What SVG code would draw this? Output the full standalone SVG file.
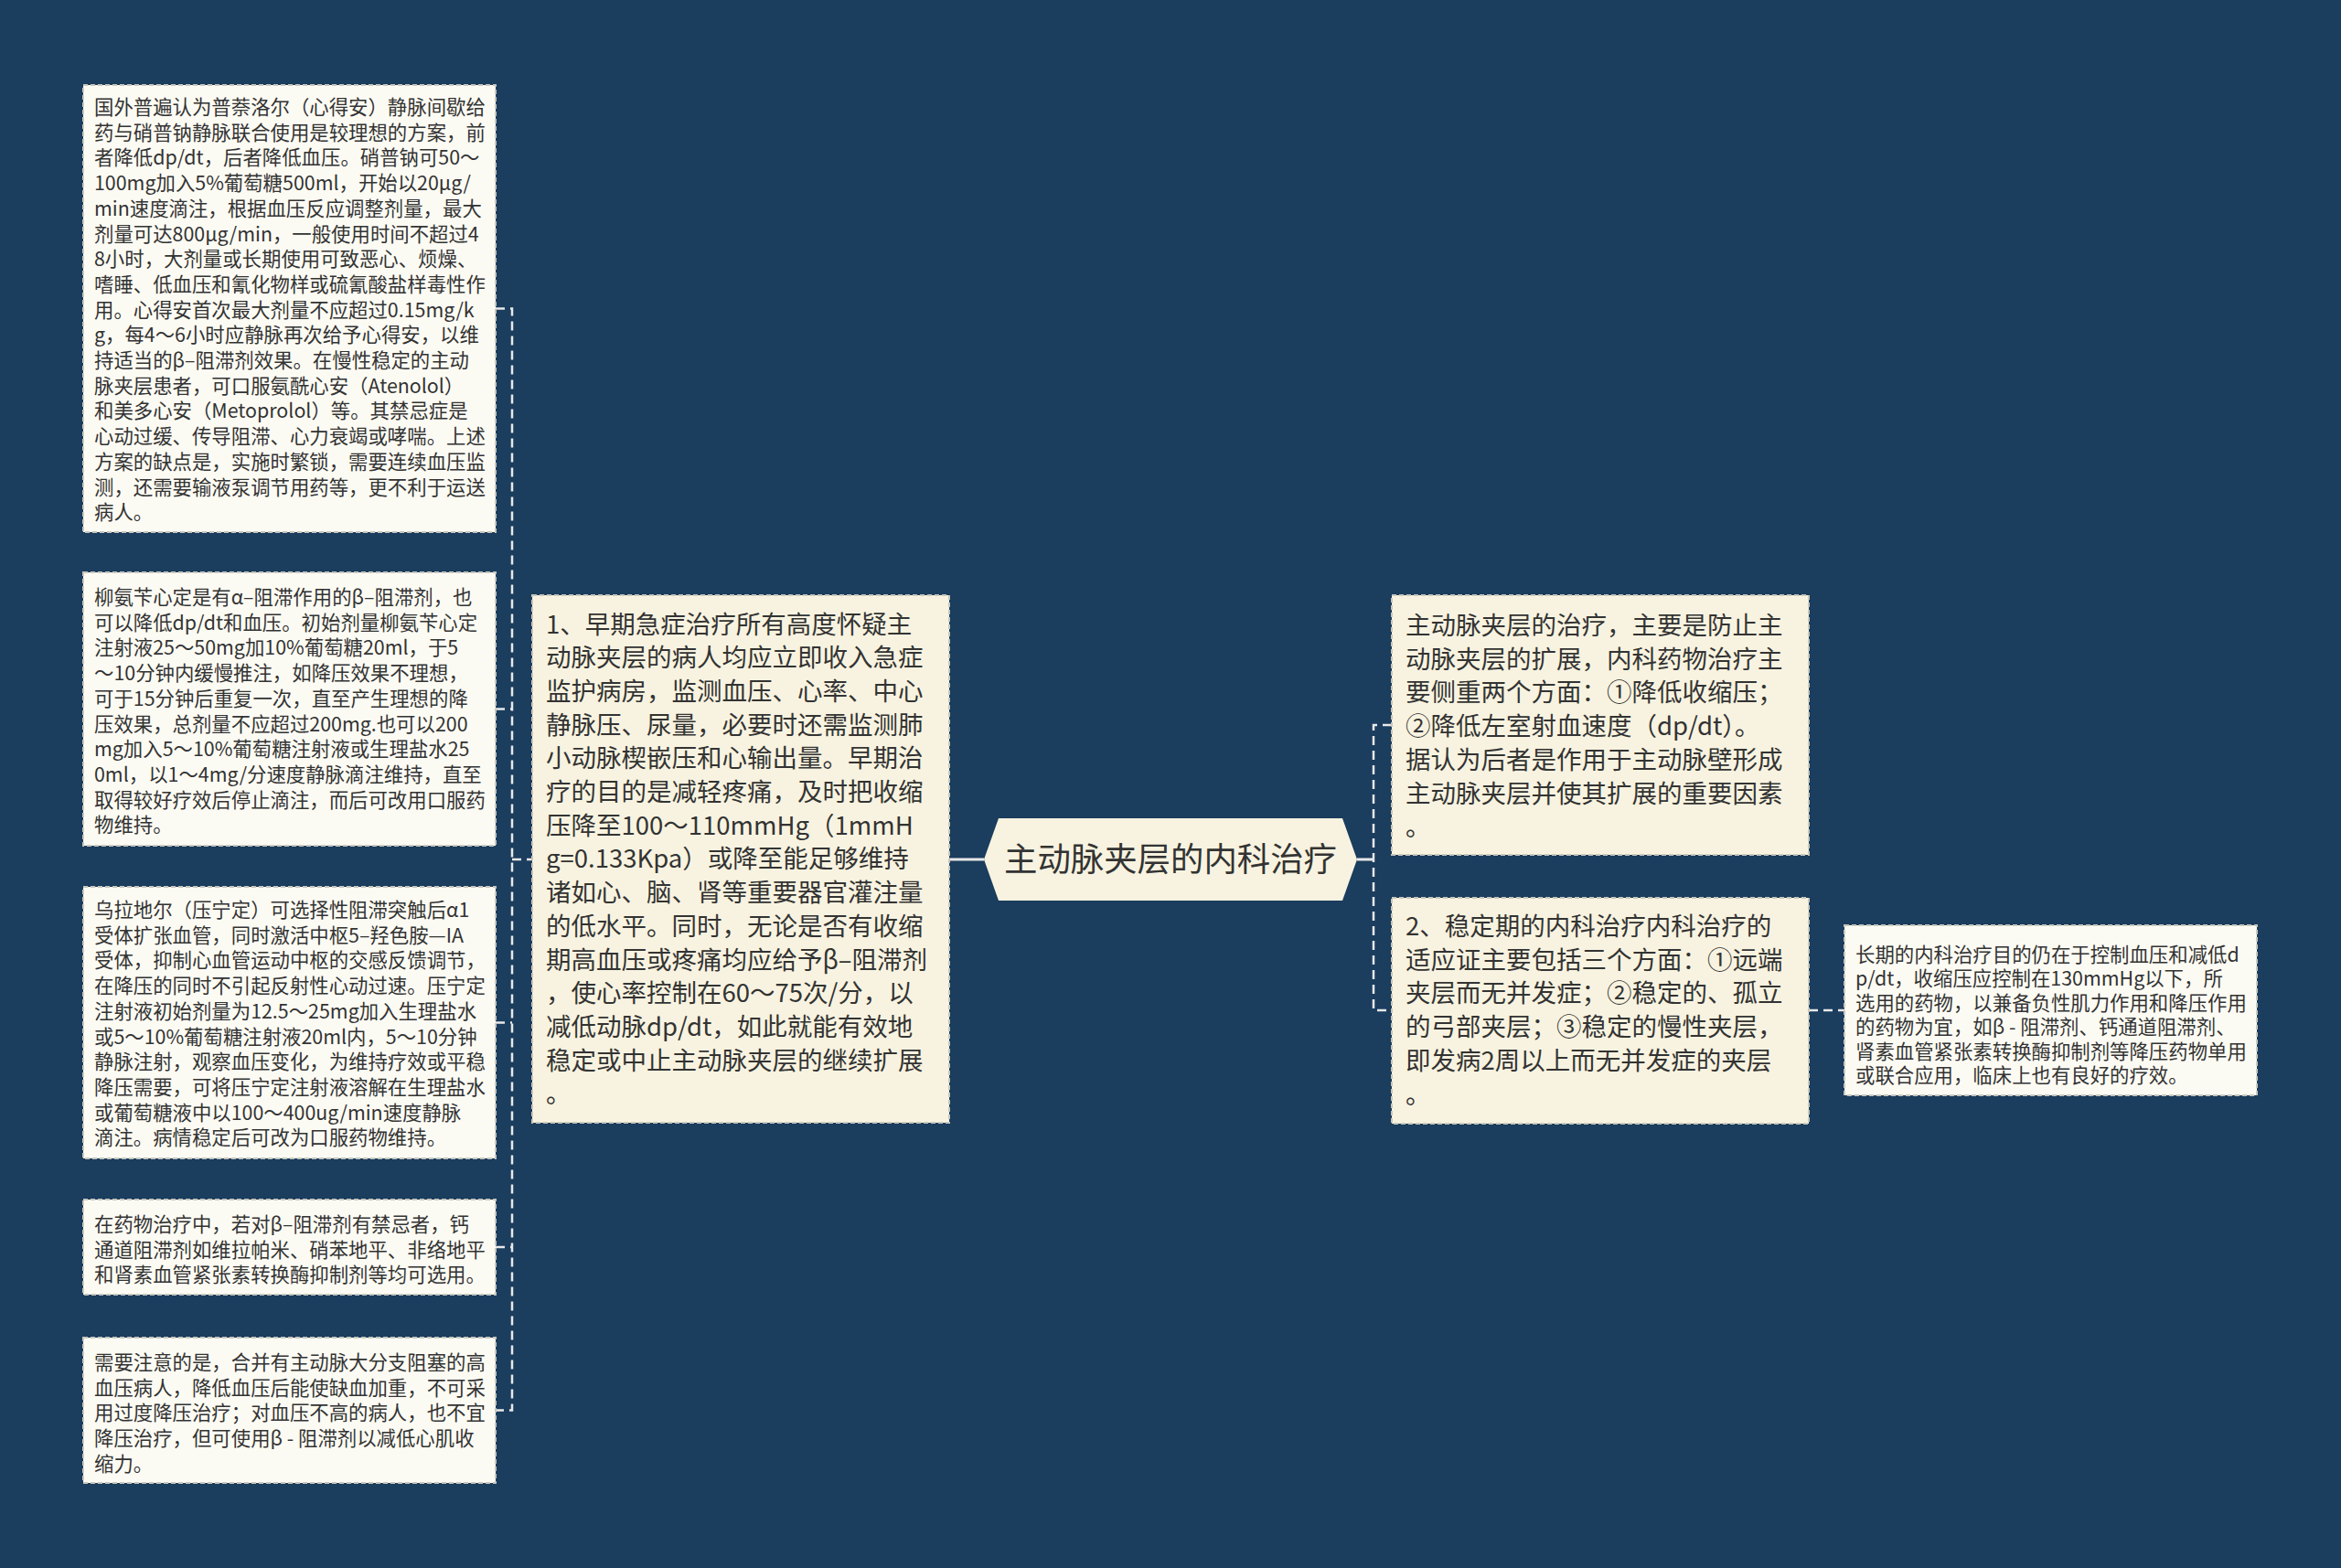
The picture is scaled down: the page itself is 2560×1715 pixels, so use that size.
<svg xmlns="http://www.w3.org/2000/svg" width="2560" height="1715" viewBox="0 0 2560 1715">
<style>
.bg{fill:#1b3d5e}
.box1{fill:#fcfbf3;stroke:#c8c6bc;stroke-width:2;stroke-dasharray:5 3}
.box2{fill:#f8f3e0;stroke:#c8c6bc;stroke-width:2;stroke-dasharray:5 3}
.hex{fill:#f8f3e0;stroke:none}
.conn{fill:none;stroke:#e8e8e8;stroke-width:2.5;stroke-dasharray:10 6}
.solid{fill:none;stroke:#e8e8e8;stroke-width:3}
text{font-family:"Noto Sans CJK SC","Noto Sans",sans-serif;fill:#333333}
.s{font-size:21.4px}
.m{font-size:27.5px}
.c{font-size:36.4px;text-anchor:middle}
</style>
<rect class="bg" x="0" y="0" width="2560" height="1715"/>
<g id="connectors">
<path class="conn" d="M542,337.5 H560 V1542.5 H542"/>
<path class="conn" d="M542,775.5 H560"/>
<path class="conn" d="M542,1118.5 H560"/>
<path class="conn" d="M542,1364 H560"/>
<path class="conn" d="M560,940 H582"/>
<path class="solid" d="M1038,940 H1076"/>
<path class="solid" d="M1484,940 H1502"/>
<path class="conn" d="M1522,793 H1502 V1105 H1522"/>
<path class="conn" d="M1978,1105 H2017"/>
</g>
<g id="center">
<polygon class="hex" points="1076,940 1092,895 1468,895 1484,940 1468,985 1092,985"/>
<text class="c" x="1280" y="953">主动脉夹层的内科治疗</text>
</g>
<g id="m1">
<rect class="box2" x="582" y="651" width="456" height="577"/>
<text class="m">
<tspan x="597" y="692.5">1、早期急症治疗所有高度怀疑主</tspan>
<tspan x="597" y="729.2">动脉夹层的病人均应立即收入急症</tspan>
<tspan x="597" y="765.9">监护病房，监测血压、心率、中心</tspan>
<tspan x="597" y="802.6">静脉压、尿量，必要时还需监测肺</tspan>
<tspan x="597" y="839.3">小动脉楔嵌压和心输出量。早期治</tspan>
<tspan x="597" y="876">疗的目的是减轻疼痛，及时把收缩</tspan>
<tspan x="597" y="912.7">压降至100～110mmHg（1mmH</tspan>
<tspan x="597" y="949.4">g=0.133Kpa）或降至能足够维持</tspan>
<tspan x="597" y="986.1">诸如心、脑、肾等重要器官灌注量</tspan>
<tspan x="597" y="1022.8">的低水平。同时，无论是否有收缩</tspan>
<tspan x="597" y="1059.5">期高血压或疼痛均应给予β–阻滞剂</tspan>
<tspan x="597" y="1096.2">，使心率控制在60～75次/分，以</tspan>
<tspan x="597" y="1132.9">减低动脉dp/dt，如此就能有效地</tspan>
<tspan x="597" y="1169.6">稳定或中止主动脉夹层的继续扩展</tspan>
<tspan x="597" y="1206.3">。</tspan>
</text>
</g>
<g id="r1">
<rect class="box2" x="1522" y="651" width="456" height="284"/>
<text class="m">
<tspan x="1537" y="694">主动脉夹层的治疗，主要是防止主</tspan>
<tspan x="1537" y="730.7">动脉夹层的扩展，内科药物治疗主</tspan>
<tspan x="1537" y="767.4">要侧重两个方面：①降低收缩压；</tspan>
<tspan x="1537" y="804.1">②降低左室射血速度（dp/dt）。</tspan>
<tspan x="1537" y="840.8">据认为后者是作用于主动脉壁形成</tspan>
<tspan x="1537" y="877.5">主动脉夹层并使其扩展的重要因素</tspan>
<tspan x="1537" y="914.2">。</tspan>
</text>
</g>
<g id="r2">
<rect class="box2" x="1522" y="982" width="456" height="247"/>
<text class="m">
<tspan x="1537" y="1023">2、稳定期的内科治疗内科治疗的</tspan>
<tspan x="1537" y="1059.7">适应证主要包括三个方面：①远端</tspan>
<tspan x="1537" y="1096.4">夹层而无并发症；②稳定的、孤立</tspan>
<tspan x="1537" y="1133.1">的弓部夹层；③稳定的慢性夹层，</tspan>
<tspan x="1537" y="1169.8">即发病2周以上而无并发症的夹层</tspan>
<tspan x="1537" y="1206.5">。</tspan>
</text>
</g>
<g id="r3">
<rect class="box1" x="2017" y="1012" width="451" height="186"/>
<text class="s">
<tspan x="2029" y="1052">长期的内科治疗目的仍在于控制血压和减低d</tspan>
<tspan x="2029" y="1078.4">p/dt，收缩压应控制在130mmHg以下，所</tspan>
<tspan x="2029" y="1104.8">选用的药物，以兼备负性肌力作用和降压作用</tspan>
<tspan x="2029" y="1131.2">的药物为宜，如β - 阻滞剂、钙通道阻滞剂、</tspan>
<tspan x="2029" y="1157.6">肾素血管紧张素转换酶抑制剂等降压药物单用</tspan>
<tspan x="2029" y="1184">或联合应用，临床上也有良好的疗效。</tspan>
</text>
</g>
<g id="l1">
<rect class="box1" x="91" y="93" width="451" height="489"/>
<text class="s">
<tspan x="103" y="125">国外普遍认为普萘洛尔（心得安）静脉间歇给</tspan>
<tspan x="103" y="152.7">药与硝普钠静脉联合使用是较理想的方案，前</tspan>
<tspan x="103" y="180.4">者降低dp/dt，后者降低血压。硝普钠可50～</tspan>
<tspan x="103" y="208.1">100mg加入5%葡萄糖500ml，开始以20μg/</tspan>
<tspan x="103" y="235.8">min速度滴注，根据血压反应调整剂量，最大</tspan>
<tspan x="103" y="263.5">剂量可达800μg/min，一般使用时间不超过4</tspan>
<tspan x="103" y="291.2">8小时，大剂量或长期使用可致恶心、烦燥、</tspan>
<tspan x="103" y="318.9">嗜睡、低血压和氰化物样或硫氰酸盐样毒性作</tspan>
<tspan x="103" y="346.6">用。心得安首次最大剂量不应超过0.15mg/k</tspan>
<tspan x="103" y="374.3">g，每4～6小时应静脉再次给予心得安，以维</tspan>
<tspan x="103" y="402">持适当的β–阻滞剂效果。在慢性稳定的主动</tspan>
<tspan x="103" y="429.7">脉夹层患者，可口服氨酰心安（Atenolol）</tspan>
<tspan x="103" y="457.4">和美多心安（Metoprolol）等。其禁忌症是</tspan>
<tspan x="103" y="485.1">心动过缓、传导阻滞、心力衰竭或哮喘。上述</tspan>
<tspan x="103" y="512.8">方案的缺点是，实施时繁锁，需要连续血压监</tspan>
<tspan x="103" y="540.5">测，还需要输液泵调节用药等，更不利于运送</tspan>
<tspan x="103" y="568.2">病人。</tspan>
</text>
</g>
<g id="l2">
<rect class="box1" x="91" y="626" width="451" height="299"/>
<text class="s">
<tspan x="103" y="661">柳氨苄心定是有α–阻滞作用的β–阻滞剂，也</tspan>
<tspan x="103" y="688.7">可以降低dp/dt和血压。初始剂量柳氨苄心定</tspan>
<tspan x="103" y="716.4">注射液25～50mg加10%葡萄糖20ml，于5</tspan>
<tspan x="103" y="744.1">～10分钟内缓慢推注，如降压效果不理想，</tspan>
<tspan x="103" y="771.8">可于15分钟后重复一次，直至产生理想的降</tspan>
<tspan x="103" y="799.5">压效果，总剂量不应超过200mg.也可以200</tspan>
<tspan x="103" y="827.2">mg加入5～10%葡萄糖注射液或生理盐水25</tspan>
<tspan x="103" y="854.9">0ml，以1～4mg/分速度静脉滴注维持，直至</tspan>
<tspan x="103" y="882.6">取得较好疗效后停止滴注，而后可改用口服药</tspan>
<tspan x="103" y="910.3">物维持。</tspan>
</text>
</g>
<g id="l3">
<rect class="box1" x="91" y="970" width="451" height="297"/>
<text class="s">
<tspan x="103" y="1003">乌拉地尔（压宁定）可选择性阻滞突触后α1</tspan>
<tspan x="103" y="1030.7">受体扩张血管，同时激活中枢5–羟色胺—IA</tspan>
<tspan x="103" y="1058.4">受体，抑制心血管运动中枢的交感反馈调节，</tspan>
<tspan x="103" y="1086.1">在降压的同时不引起反射性心动过速。压宁定</tspan>
<tspan x="103" y="1113.8">注射液初始剂量为12.5～25mg加入生理盐水</tspan>
<tspan x="103" y="1141.5">或5～10%葡萄糖注射液20ml内，5～10分钟</tspan>
<tspan x="103" y="1169.2">静脉注射，观察血压变化，为维持疗效或平稳</tspan>
<tspan x="103" y="1196.9">降压需要，可将压宁定注射液溶解在生理盐水</tspan>
<tspan x="103" y="1224.6">或葡萄糖液中以100～400ug/min速度静脉</tspan>
<tspan x="103" y="1252.3">滴注。病情稳定后可改为口服药物维持。</tspan>
</text>
</g>
<g id="l4">
<rect class="box1" x="91" y="1312" width="451" height="104"/>
<text class="s">
<tspan x="103" y="1347">在药物治疗中，若对β–阻滞剂有禁忌者，钙</tspan>
<tspan x="103" y="1374.7">通道阻滞剂如维拉帕米、硝苯地平、非络地平</tspan>
<tspan x="103" y="1402.4">和肾素血管紧张素转换酶抑制剂等均可选用。</tspan>
</text>
</g>
<g id="l5">
<rect class="box1" x="91" y="1463" width="451" height="159"/>
<text class="s">
<tspan x="103" y="1498">需要注意的是，合并有主动脉大分支阻塞的高</tspan>
<tspan x="103" y="1525.7">血压病人，降低血压后能使缺血加重，不可采</tspan>
<tspan x="103" y="1553.4">用过度降压治疗；对血压不高的病人，也不宜</tspan>
<tspan x="103" y="1581.1">降压治疗，但可使用β - 阻滞剂以减低心肌收</tspan>
<tspan x="103" y="1608.8">缩力。</tspan>
</text>
</g>
</svg>
